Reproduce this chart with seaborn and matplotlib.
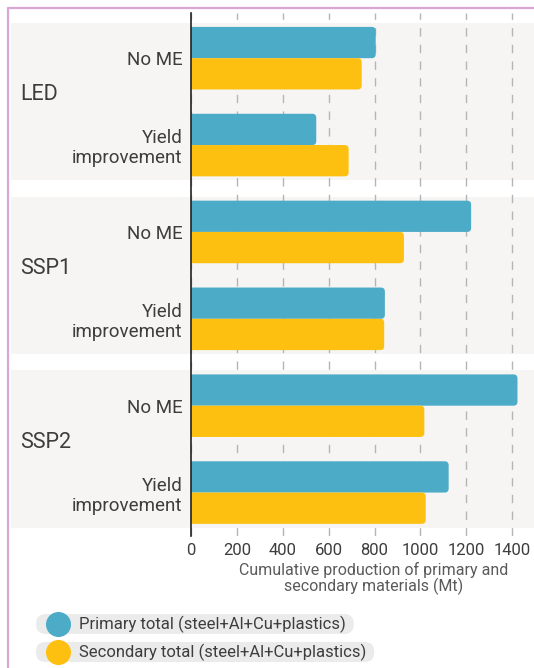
import numpy as np
import pandas as pd
import seaborn as sns
import matplotlib.pyplot as plt
from matplotlib.patches import Rectangle, FancyBboxPatch
from matplotlib.lines import Line2D
from matplotlib.transforms import blended_transform_factory

scenarios = ["LED", "SSP1", "SSP2"]
cases = ["No ME", "Yield\nimprovement"]
primary = [805, 546, 1221, 845, 1423, 1123]
secondary = [744, 687, 928, 842, 1017, 1023]
series_names = ["Primary total (steel+Al+Cu+plastics)", "Secondary total (steel+Al+Cu+plastics)"]
colors = ["#4cabc6", "#fdc010"]
xticks = [0, 200, 400, 600, 800, 1000, 1200, 1400]

rows = []
for i, scen in enumerate(scenarios):
    for j, case in enumerate(cases):
        k = i * len(cases) + j
        row_id = f"{scen}|{case}"
        rows.append({"row": row_id, "case": case, "series": series_names[0], "value": primary[k]})
        rows.append({"row": row_id, "case": case, "series": series_names[1], "value": secondary[k]})
df = pd.DataFrame(rows)
order = list(dict.fromkeys(df["row"]))

sns.set_theme(style="white")
plt.rcParams['font.family'] = ['Roboto', 'DejaVu Sans']

W, H = 534, 668
fig = plt.figure(figsize=(W / 100, H / 100), dpi=100)
ax = fig.add_axes([191 / W, 1 - 536 / H, (W - 191) / W, (536 - 13) / H])
ax.patch.set_facecolor("none")

sns.barplot(data=df, x="value", y="row", hue="series", order=order, hue_order=series_names,
            palette=colors, width=0.72, orient="h", ax=ax, legend=False, saturation=1)

ax.set_xlim(0, 1495)
ax.set_ylim(len(order) - 0.5, -0.52)

# round the right end of each bar (left end is clipped at x=0)
px_x = (W - 191) / 1495
px_y = (536 - 13) / (len(order) + 0.02)
r = 4 / px_x
for p in list(ax.patches):
    x0, y0 = p.get_x(), p.get_y()
    w, h = p.get_width(), p.get_height()
    fc = p.get_facecolor()
    p.remove()
    fb = FancyBboxPatch((x0 - r, y0), w + r, h,
                        boxstyle=f"round,pad=0,rounding_size={r}",
                        mutation_aspect=px_x / px_y,
                        fc=fc, ec="none", zorder=2)
    ax.add_patch(fb)

# grey group bands + scenario labels
trans = blended_transform_factory(fig.transFigure, ax.transData)
for i, scen in enumerate(scenarios):
    c = i * 2 + 0.5
    ax.add_patch(Rectangle((11 / W, c - 0.905), 1, 1.81, transform=trans,
                           fc="#f6f5f3", ec="none", zorder=0.1, clip_on=False))
    ax.text(20 / W, c - 0.08, scen, transform=trans, fontsize=15.5,
            color="#3d3d3d", ha="left", va="center")

ax.grid(axis="x", color="#b5b5b5", lw=1, linestyle=(0, (6, 6)))
ax.grid(axis="y", visible=False)
ax.set_axisbelow(True)
ax.set_xticks(xticks)
ax.set_xticklabels([str(t) for t in xticks])
ax.set_yticks(range(len(order)))
ax.set_yticklabels([o.split("|")[1] for o in order], fontsize=13.5, color="#3d3d3d",
                   linespacing=1.15)
ax.tick_params(axis="both", length=0)
ax.tick_params(axis="y", pad=6)
ax.tick_params(axis="x", pad=5, labelsize=12, labelcolor="#3d3d3d")
for s in ["top", "right", "bottom"]:
    ax.spines[s].set_visible(False)
ax.spines["left"].set_color("#222222")
ax.spines["left"].set_linewidth(1.2)
ax.set_ylabel("")
ax.set_xlabel("Cumulative production of primary and\nsecondary materials (Mt)",
              fontsize=11.5, color="#5a5a5a", linespacing=1.0, labelpad=3)
ax.xaxis.label.set_x((374 - 191) / (W - 191))

# frame lines
fig.add_artist(Line2D([8 / W, 8 / W], [0, 1 - 8 / H], color="#d9a7d5", lw=1.6))
fig.add_artist(Line2D([8 / W, 1], [1 - 8 / H, 1 - 8 / H], color="#d9a7d5", lw=1.6))

# legend pills
fig.canvas.draw()
renderer = fig.canvas.get_renderer()
for name, col, yc in zip(series_names, colors, [624, 652]):
    t = fig.text(79 / W, 1 - yc / H, name, fontsize=12, color="#3d3d3d",
                 ha="left", va="center", zorder=3)
    bb = t.get_window_extent(renderer)
    x1 = bb.x1 + 8
    pill = FancyBboxPatch((36 / W, 1 - (yc + 10) / H), (x1 - 36) / W, 20 / H,
                          boxstyle="round,pad=0,rounding_size=0.018",
                          mutation_aspect=W / H,
                          transform=fig.transFigure, fc="#ebebeb", ec="none", zorder=1)
    fig.add_artist(pill)
    fig.add_artist(Line2D([58 / W], [1 - yc / H], marker="o", markersize=17,
                          color=col, lw=0, zorder=2))

fig.savefig("out.png", dpi=100)
